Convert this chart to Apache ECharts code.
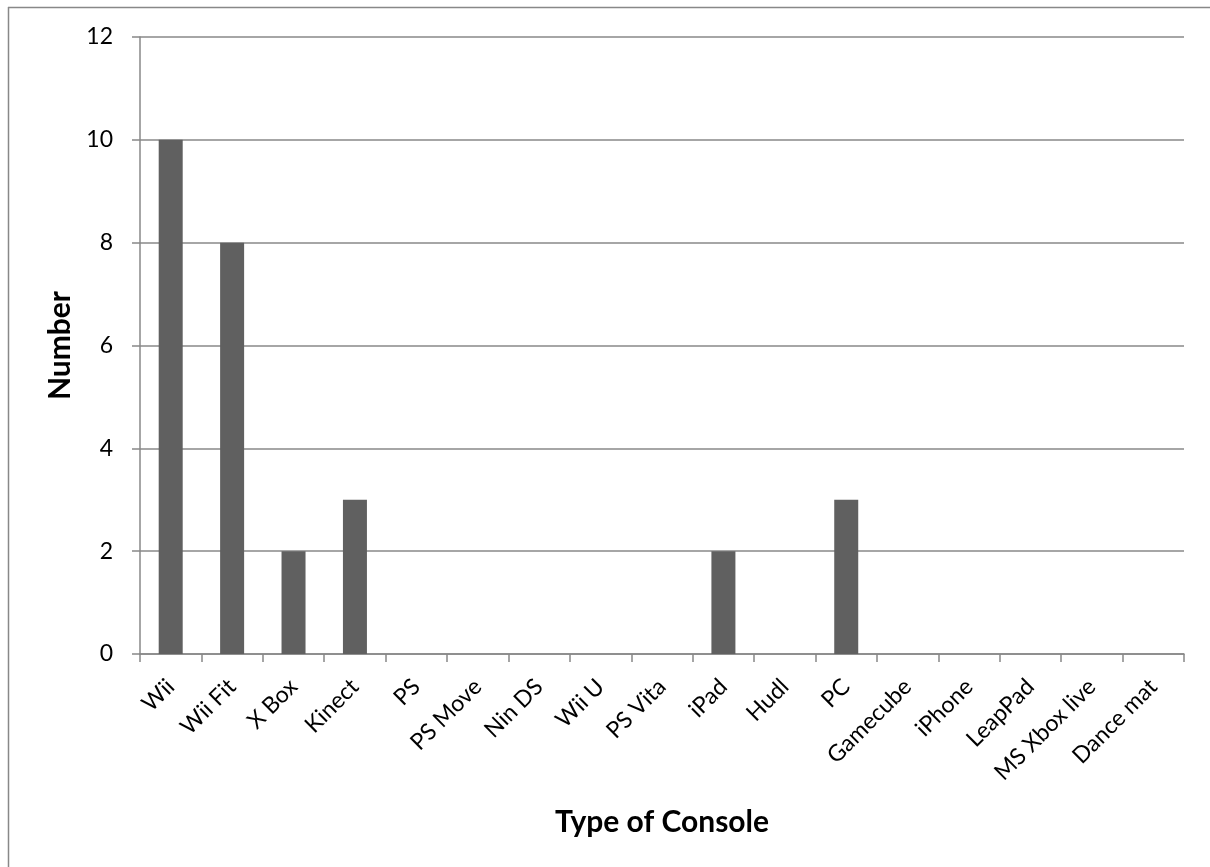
<!DOCTYPE html>
<html><head><meta charset="utf-8">
<script src="https://cdn.jsdelivr.net/npm/echarts@6/dist/echarts.min.js"></script>
<style>html,body{margin:0;padding:0;background:#fff}#c{width:1210px;height:867px}</style>
</head><body><div id="c"></div>
<script>
const categories = ["Wii","Wii Fit","X Box","Kinect","PS","PS Move","Nin DS","Wii U","PS Vita","iPad","Hudl","PC","Gamecube","iPhone","LeapPad","MS Xbox live","Dance mat"];
const values = [10,8,2,3,0,0,0,0,0,2,0,3,0,0,0,0,0];
const yTicks = [0,2,4,6,8,10,12];

const chart = echarts.init(document.getElementById('c'));
const font = 'Lato, "Open Sans", sans-serif';
chart.setOption({
  animation:false,
  graphic:[
    {type:'line',shape:{x1:8,y1:7.5,x2:1210,y2:7.5},style:{stroke:'#888',lineWidth:1.5}},
    {type:'line',shape:{x1:8.5,y1:7,x2:8.5,y2:867},style:{stroke:'#888',lineWidth:1.5}}
  ],
  grid:{left:140,right:26,top:37,bottom:213},
  xAxis:{
    type:'category',data:categories,
    name:'Type of Console',nameLocation:'middle',nameGap:153,
    nameTextStyle:{fontFamily:font,fontSize:30,fontWeight:'bold',color:'#000'},
    axisLine:{lineStyle:{color:'#888',width:1.5}},
    axisTick:{show:true,length:8,lineStyle:{color:'#888',width:1.5}},
    axisLabel:{rotate:45,interval:0,fontFamily:font,fontSize:23,color:'#000',margin:29}
  },
  yAxis:{
    type:'value',min:0,max:12,interval:2,
    name:'Number',nameLocation:'middle',nameGap:64,
    nameTextStyle:{fontFamily:font,fontSize:30,fontWeight:'bold',color:'#000'},
    axisLine:{show:true,lineStyle:{color:'#888',width:1.5}},
    axisTick:{show:true,length:8,lineStyle:{color:'#888',width:1.5}},
    splitLine:{lineStyle:{color:'#888',width:1.5}},
    axisLabel:{fontFamily:font,fontSize:23,color:'#000',margin:27,
      formatter:v=>yTicks.includes(v)?String(v):''}
  },
  series:[{type:'bar',data:values,barWidth:24,itemStyle:{color:'#606060'}}]
});
</script></body></html>
